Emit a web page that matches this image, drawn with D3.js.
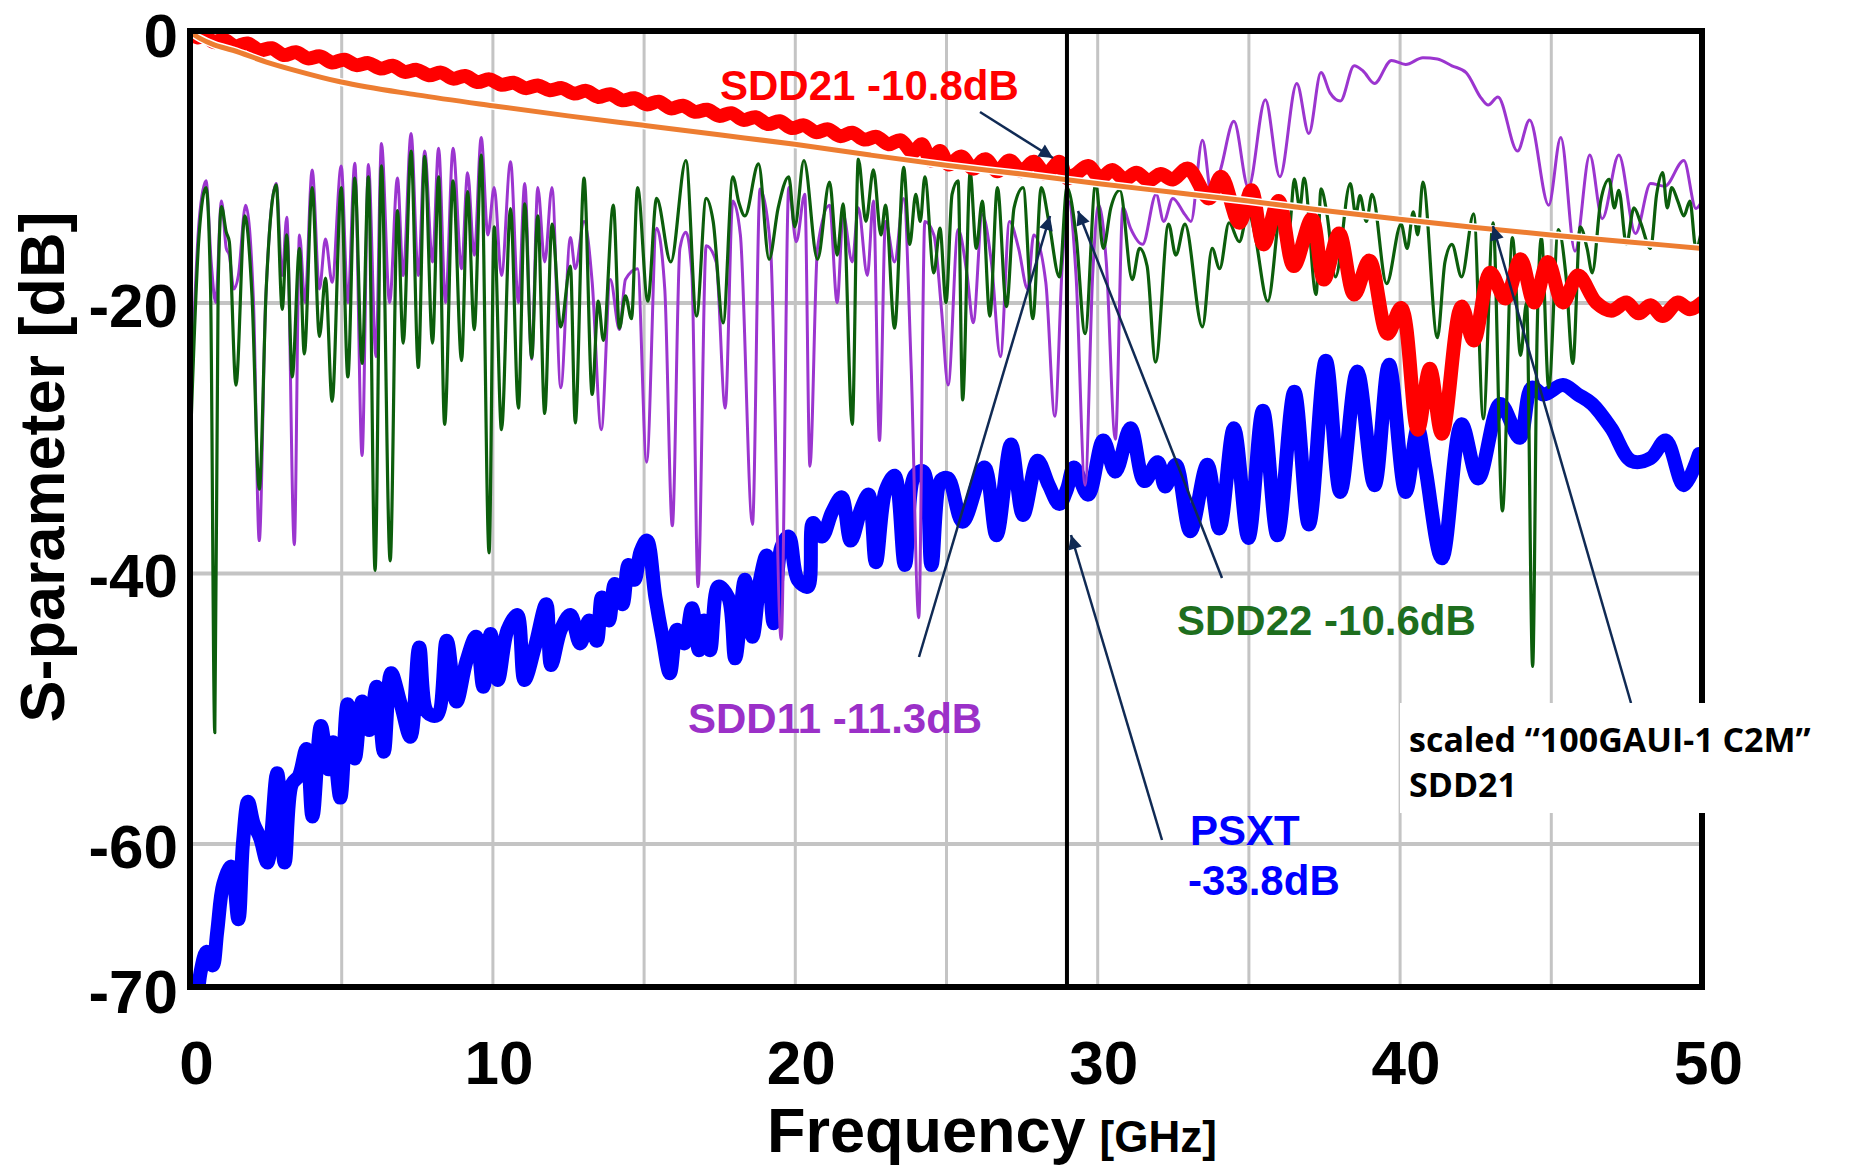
<!DOCTYPE html>
<html><head><meta charset="utf-8">
<script src="https://cdn.jsdelivr.net/npm/d3@7"></script>
<style>body{margin:0;background:#fff}svg{display:block}</style>
</head><body>
<svg id="chart" width="1865" height="1167"></svg>
<script>
// ---------- DATA ----------
const xTickValues = [0, 10, 20, 30, 40, 50];
const yTickValues = [0, -20, -40, -60, -70];
const xGridValues = [5, 10, 15, 20, 25, 30, 35, 40, 45];
const yGridValues = [-20, -40, -60];
const markerFreq = 29;

// scaled "100GAUI-1 C2M" SDD21 reference [GHz, dB]
const c2mRef = [[0,0],[0.33,-0.47],[0.8,-0.95],[1.42,-1.35],[2.5,-2.2],[3.5,-2.85],[5,-3.7],[7.5,-4.65],[10,-5.45],[12.5,-6.2],[15,-6.9],[17.5,-7.6],[20,-8.3],[22.5,-9.1],[25,-9.85],[27.5,-10.5],[30,-11.2],[32.5,-11.85],[35,-12.5],[37.5,-13.2],[40,-13.85],[42.5,-14.45],[45,-15.0],[47.5,-15.5],[50,-16.0]];

// SDD21 measured
const sdd21 = [[0,0],[0.25,-0.4],[0.5,-0.3],[0.8,-0.75],[1.1,-0.55],[1.5,-1.05],[1.9,-0.85],[2.3,-1.35],[2.7,-1.2],[3.1,-1.7],[3.5,-1.5],[3.9,-1.95],[4.3,-1.8],[4.7,-2.25],[5.1,-2.05],[5.5,-2.45],[5.9,-2.3],[6.3,-2.7],[6.7,-2.5],[7.1,-2.95],[7.5,-2.8],[7.9,-3.2],[8.3,-3.0],[8.7,-3.45],[9.1,-3.25],[9.5,-3.7],[9.9,-3.5],[10.3,-3.9],[10.7,-3.75],[11.1,-4.15],[11.5,-3.95],[11.9,-4.3],[12.3,-4.15],[12.7,-4.55],[13.1,-4.35],[13.5,-4.8],[13.9,-4.6],[14.3,-5.05],[14.7,-4.9],[15.1,-5.35],[15.5,-5.15],[15.9,-5.65],[16.3,-5.45],[16.7,-5.9],[17.1,-5.75],[17.5,-6.2],[17.9,-6.0],[18.3,-6.5],[18.7,-6.3],[19.1,-6.8],[19.5,-6.6],[19.9,-7.1],[20.3,-6.9],[20.7,-7.4],[21.1,-7.2],[21.5,-7.7],[21.9,-7.45],[22.3,-7.95],[22.7,-7.75],[23.1,-8.3],[23.5,-8.0],[23.9,-8.9],[24.2,-8.3],[24.5,-9.5],[24.8,-8.8],[25.1,-9.8],[25.5,-9.2],[25.9,-10.1],[26.3,-9.4],[26.7,-10.3],[27.1,-9.5],[27.5,-10.3],[27.9,-9.6],[28.3,-10.5],[28.75,-9.6],[29.0,-10.8],[29.3,-10.5],[29.7,-9.9],[30.1,-10.8],[30.5,-10.2],[30.9,-10.9],[31.3,-10.4],[31.7,-11.0],[32.1,-10.5],[32.5,-10.9],[33.0,-10.1],[33.7,-12.3],[34.1,-10.7],[34.7,-14.1],[35.1,-11.7],[35.5,-15.7],[36.0,-12.5],[36.5,-17.3],[37.1,-13.8],[37.5,-18.3],[38.0,-14.9],[38.5,-19.4],[39.0,-16.9],[39.6,-22.3],[40.05,-20.4],[40.6,-29.4],[41.0,-24.9],[41.4,-29.7],[42.05,-20.3],[42.45,-22.8],[43.0,-17.8],[43.5,-19.7],[44.0,-16.8],[44.45,-20.0],[44.9,-17.0],[45.4,-20.0],[45.9,-18.0],[46.5,-20.0],[47.0,-20.6],[47.5,-20.0],[47.9,-20.8],[48.3,-20.2],[48.7,-21.0],[49.2,-20.0],[49.6,-20.5],[50,-20.0]];

// SDD22 measured
const sdd22 = [[0.02,-30],[0.3,-15],[0.53,-11.5],[0.68,-19],[0.82,-51.8],[0.93,-19],[1.04,-12.9],[1.2,-14.8],[1.3,-15.5],[1.52,-26.1],[1.81,-13.6],[2.05,-19.5],[2.29,-33.8],[2.52,-19],[2.85,-11.3],[3.05,-20.5],[3.2,-15.0],[3.38,-25.5],[3.62,-16.0],[3.78,-23.8],[4.04,-11.5],[4.28,-22.5],[4.48,-18.2],[4.7,-27.3],[5.0,-11.5],[5.22,-25.5],[5.45,-10.8],[5.69,-24.5],[5.9,-10.7],[6.12,-39.8],[6.33,-9.9],[6.62,-39.1],[6.86,-13.2],[7.05,-23.0],[7.31,-8.8],[7.55,-24.8],[7.76,-9.2],[8.02,-23.0],[8.22,-10.7],[8.42,-29.0],[8.7,-11.0],[8.98,-24.3],[9.18,-11.8],[9.4,-22.0],[9.63,-9.1],[9.89,-38.5],[10.06,-14.4],[10.3,-29.4],[10.6,-13.05],[10.86,-27.8],[11.07,-12.7],[11.3,-24.1],[11.5,-13.6],[11.73,-28.2],[11.97,-14.2],[12.26,-21.8],[12.58,-17.3],[12.74,-28.9],[13.03,-10.8],[13.3,-26.8],[13.5,-19.9],[13.67,-22.8],[14.0,-12.8],[14.2,-21.9],[14.4,-19.5],[14.6,-21.2],[14.8,-11.5],[15.14,-19.9],[15.43,-12.3],[15.9,-17.0],[16.4,-9.5],[16.75,-21.0],[17.07,-12.3],[17.3,-14.0],[17.63,-21.5],[17.95,-10.7],[18.15,-12.6],[18.35,-13.6],[18.8,-9.75],[19.15,-16.8],[19.45,-13.0],[19.8,-10.7],[20.0,-14.4],[20.3,-9.5],[20.75,-16.8],[21.15,-11.1],[21.4,-16.5],[21.6,-12.7],[21.9,-29.0],[22.1,-9.4],[22.35,-14.0],[22.6,-10.2],[22.85,-15.0],[23.0,-12.8],[23.3,-21.9],[23.6,-10.0],[23.8,-15.7],[24.0,-12.0],[24.15,-14.0],[24.3,-10.7],[24.6,-17.8],[24.8,-14.5],[25.0,-20.0],[25.2,-12.0],[25.4,-11.0],[25.55,-27.2],[25.8,-10.4],[26.0,-16.0],[26.2,-12.5],[26.45,-21.0],[26.7,-11.5],[27.0,-20.3],[27.25,-13.0],[27.55,-11.5],[27.87,-21.2],[28.15,-11.5],[28.4,-14.0],[28.75,-18.1],[29.0,-11.5],[29.3,-15.0],[29.6,-22.3],[29.95,-11.2],[30.2,-16.0],[30.45,-13.0],[30.75,-11.7],[31.16,-18.3],[31.4,-16.0],[31.65,-17.3],[31.93,-24.4],[32.36,-14.2],[32.6,-16.5],[32.9,-14.2],[33.48,-21.8],[33.8,-16.0],[34.05,-17.5],[34.36,-14.1],[34.7,-15.5],[35.0,-13.2],[35.2,-14.8],[35.64,-19.9],[36.12,-12.5],[36.35,-14.5],[36.52,-10.9],[36.7,-13.0],[36.84,-10.8],[37.24,-19.4],[37.4,-11.6],[37.6,-13.5],[37.88,-18.1],[38.37,-11.2],[38.55,-13.5],[38.69,-12.1],[38.9,-14.0],[39.09,-12.0],[39.57,-18.6],[40.05,-14.2],[40.25,-16.0],[40.45,-13.3],[40.6,-15.0],[40.77,-11.1],[41.25,-22.6],[41.5,-17.0],[41.73,-15.7],[42.05,-18.1],[42.45,-13.45],[42.77,-28.6],[43.09,-14.1],[43.4,-35.4],[43.73,-15.2],[44.0,-23.9],[44.2,-20.0],[44.4,-46.9],[44.55,-22.0],[44.69,-15.2],[44.93,-26.3],[45.25,-14.6],[45.5,-18.0],[45.73,-24.5],[45.97,-14.4],[46.2,-16.0],[46.37,-17.8],[46.65,-12.5],[46.93,-10.9],[47.1,-13.0],[47.25,-11.7],[47.5,-15.7],[47.75,-13.0],[47.97,-14.1],[48.3,-16.0],[48.5,-12.0],[48.7,-10.4],[48.85,-13.0],[49.0,-11.5],[49.2,-12.5],[49.4,-13.6],[49.6,-12.5],[49.8,-16.0],[50.0,-14.5]];

// SDD11 measured
const sdd11 = [[0.02,-28],[0.3,-14],[0.53,-11.0],[0.7,-17],[0.85,-20],[1.04,-12.5],[1.2,-16],[1.3,-16.5],[1.45,-19],[1.6,-18],[1.84,-12.8],[2.1,-20],[2.29,-37.6],[2.5,-20],[2.85,-11.2],[3.05,-18],[3.2,-13.7],[3.45,-37.9],[3.62,-15.0],[3.8,-20],[4.04,-10.2],[4.28,-19],[4.48,-15.3],[4.7,-18.5],[5.0,-9.9],[5.22,-20],[5.45,-9.7],[5.69,-31.3],[5.9,-9.8],[6.15,-24],[6.33,-8.25],[6.6,-20],[6.86,-10.8],[7.05,-18],[7.31,-7.5],[7.55,-18],[7.76,-8.8],[8.02,-17],[8.22,-8.6],[8.45,-20],[8.7,-8.6],[8.98,-17.5],[9.18,-10.4],[9.4,-16.5],[9.63,-7.8],[9.85,-15],[10.06,-11.5],[10.3,-18.0],[10.6,-9.6],[10.86,-20],[11.07,-11.2],[11.3,-24.2],[11.5,-11.5],[11.73,-17.0],[11.97,-11.5],[12.26,-26.3],[12.58,-15.2],[12.74,-17.5],[13.03,-14.0],[13.3,-18.5],[13.6,-29.4],[13.9,-18.3],[14.2,-22.0],[14.4,-18.3],[14.8,-17.5],[15.1,-31.8],[15.43,-14.5],[15.7,-19],[15.95,-36.5],[16.2,-16],[16.4,-14.8],[16.6,-18],[16.8,-41.0],[17.07,-15.8],[17.4,-17],[17.7,-27.8],[17.95,-12.5],[18.2,-15],[18.6,-36.4],[18.85,-11.6],[19.2,-16],[19.55,-44.9],[19.8,-11.5],[20.05,-15.5],[20.33,-12],[20.5,-32.1],[20.75,-16],[21.15,-12.8],[21.4,-20],[21.6,-13.5],[21.9,-17],[22.1,-13],[22.4,-18],[22.6,-12.5],[22.8,-30.2],[23.0,-14],[23.3,-17],[23.6,-12.3],[23.85,-24.9],[24.1,-43.3],[24.3,-14],[24.6,-15],[24.85,-20.5],[25.07,-26.1],[25.4,-14.6],[25.7,-18],[25.9,-21.5],[26.2,-13.5],[26.5,-17],[26.8,-24],[27.1,-14],[27.4,-16],[27.7,-19],[27.9,-15],[28.3,-18.5],[28.6,-28.4],[28.85,-17],[29.05,-12.5],[29.3,-18],[29.6,-33.5],[29.85,-18],[30.05,-12.8],[30.3,-17],[30.6,-30.1],[30.85,-13.0],[31.1,-14.5],[31.5,-15.7],[31.95,-12.0],[32.2,-14],[32.5,-12.3],[32.9,-13.5],[33.1,-14],[33.48,-8.0],[33.8,-12.3],[34.1,-10],[34.52,-6.6],[35.0,-11.5],[35.56,-5.0],[36.04,-10.7],[36.6,-3.8],[37.0,-7.5],[37.4,-3.0],[37.7,-4.5],[38.04,-5.1],[38.5,-2.5],[38.8,-2.9],[39.17,-3.8],[39.73,-2.1],[40.2,-2.4],[40.77,-1.9],[41.25,-2.0],[41.73,-2.5],[42.2,-3.0],[42.7,-4.9],[42.93,-5.4],[43.25,-4.8],[43.9,-8.8],[44.3,-6.5],[44.93,-12.8],[45.33,-7.8],[45.8,-16.2],[46.29,-9.1],[46.7,-13.8],[47.25,-9.1],[47.8,-14.9],[48.3,-11.2],[48.77,-11.4],[49.4,-9.5],[49.8,-13.05],[50.0,-12.5]];

// PSXT measured
const psxt = [[0.24,-72],[0.35,-69.5],[0.55,-68.0],[0.75,-69],[0.9,-66.5],[1.1,-63.0],[1.36,-61.7],[1.6,-65.6],[1.75,-60],[1.92,-56.9],[2.1,-58.5],[2.32,-59.6],[2.56,-61.4],[2.88,-54.8],[3.13,-61.4],[3.37,-55.6],[3.6,-55],[3.85,-53.0],[4.05,-58.0],[4.33,-51.3],[4.57,-54.5],[4.73,-52.5],[4.97,-56.6],[5.21,-49.7],[5.45,-53.7],[5.69,-49.5],[5.93,-51.6],[6.17,-48.4],[6.41,-53.2],[6.65,-47.4],[6.97,-49.7],[7.29,-52.1],[7.58,-45.5],[7.85,-50.3],[8.17,-50.5],[8.49,-45.0],[8.81,-49.5],[9.13,-46.6],[9.46,-44.7],[9.7,-48.4],[9.94,-44.5],[10.18,-47.9],[10.5,-44.2],[10.82,-43.1],[11.06,-47.9],[11.4,-45.5],[11.78,-42.3],[11.94,-46.8],[12.26,-44.2],[12.58,-43.1],[12.9,-45.2],[13.2,-43.5],[13.45,-45.0],[13.62,-41.8],[13.85,-43.5],[14.05,-40.8],[14.3,-42.3],[14.5,-39.4],[14.7,-40.5],[14.9,-38.4],[15.11,-37.6],[15.39,-41.8],[15.62,-44.7],[15.87,-47.4],[16.1,-44.2],[16.35,-45.2],[16.6,-42.6],[16.83,-45.7],[17.0,-43.5],[17.2,-45.7],[17.47,-41.0],[17.8,-41.8],[18.03,-46.3],[18.35,-40.5],[18.6,-44.7],[18.85,-40.5],[19.07,-38.7],[19.3,-43.7],[19.55,-38.1],[19.8,-37.3],[20.1,-40.5],[20.43,-41.0],[20.6,-36.3],[20.9,-37.3],[21.23,-35.5],[21.55,-34.4],[21.85,-37.6],[22.2,-35.2],[22.44,-34.2],[22.68,-39.2],[23.0,-33.9],[23.3,-32.8],[23.64,-39.4],[23.96,-32.8],[24.25,-32.5],[24.52,-39.4],[24.84,-33.1],[25.07,-33.0],[25.55,-36.2],[26.27,-32.2],[26.67,-37.2],[27.15,-30.5],[27.55,-35.7],[28.03,-31.7],[28.4,-33.5],[28.75,-34.9],[29.0,-33.8],[29.23,-32.2],[29.7,-34.2],[30.2,-30.2],[30.6,-32.5],[31.1,-29.3],[31.56,-33.2],[32.0,-31.8],[32.25,-33.6],[32.6,-32.0],[33.08,-36.9],[33.64,-32.0],[34.04,-36.7],[34.52,-29.3],[35.0,-37.4],[35.48,-28.0],[35.96,-37.2],[36.52,-26.6],[37.0,-36.4],[37.56,-24.3],[38.04,-34.0],[38.6,-25.1],[39.17,-33.5],[39.65,-24.6],[40.2,-34.0],[40.6,-29.3],[40.85,-32.2],[41.4,-38.9],[42.05,-29.0],[42.6,-33.0],[43.33,-27.5],[43.97,-30.0],[44.37,-26.3],[44.77,-26.8],[45.4,-26.1],[45.9,-26.8],[46.37,-27.5],[47.0,-29.3],[47.66,-31.7],[48.3,-31.5],[48.8,-30.2],[49.4,-33.5],[49.9,-31.2]];

const labelTexts = ["SDD21 -10.8dB", "SDD22 -10.6dB", "SDD11 -11.3dB", "PSXT", "-33.8dB"];
const refLabelLines = ["scaled \u201C100GAUI-1 C2M\u201D", "SDD21"];

// ---------- LAYOUT ----------
const svg = d3.select("#chart");
const L = 190, R = 1702, T = 32, B = 987;
const x = d3.scaleLinear().domain([0, 50]).range([L, R]);
const y = d3.scaleLinear().domain([-70.6, 0]).range([B, T]);
const FONT = "'Liberation Sans', Arial, Helvetica, sans-serif";

svg.append("rect").attr("width", 1865).attr("height", 1167).attr("fill", "#fff");

// grid
svg.append("g").attr("transform", `translate(0,${B})`)
  .call(d3.axisBottom(x).tickValues(xGridValues).tickSize(-(B - T)).tickFormat(""))
  .call(g => g.select(".domain").remove())
  .call(g => g.selectAll("line").attr("stroke", "#c4c4c4").attr("stroke-width", 3));
svg.append("g").attr("transform", `translate(${L},0)`)
  .call(d3.axisLeft(y).tickValues(yGridValues).tickSize(-(R - L)).tickFormat(""))
  .call(g => g.select(".domain").remove())
  .call(g => g.selectAll("line").attr("stroke", "#c4c4c4").attr("stroke-width", 4));

// clip
svg.append("clipPath").attr("id", "plotclip").append("rect")
  .attr("x", L).attr("y", T - 4).attr("width", R - L).attr("height", B - T + 4);
const plot = svg.append("g").attr("clip-path", "url(#plotclip)");

const lineSmooth = d3.line().x(d => x(d[0])).y(d => y(d[1])).curve(d3.curveCatmullRom.alpha(0.5));
const lineMono = d3.line().x(d => x(d[0])).y(d => y(d[1])).curve(d3.curveMonotoneX);

function draw(data, gen, color, width) {
  plot.append("path").datum(data).attr("d", gen).attr("fill", "none")
    .attr("stroke", color).attr("stroke-width", width)
    .attr("stroke-linejoin", "round").attr("stroke-linecap", "round");
}
draw(psxt, lineSmooth, "#0000ff", 14);
draw(sdd11, lineMono, "#9b35cf", 3);
draw(sdd22, lineMono, "#0c5e0c", 3.2);
draw(sdd21, lineSmooth, "#ff0000", 14);
draw(c2mRef, lineMono, "#ffffff", 8);
draw(c2mRef, lineMono, "#ed7d31", 5);

// marker line at 29 GHz
svg.append("line").attr("x1", x(markerFreq)).attr("x2", x(markerFreq))
  .attr("y1", T).attr("y2", B).attr("stroke", "#000").attr("stroke-width", 4);

// frame
svg.append("rect").attr("x", L).attr("y", T - 1).attr("width", R - L).attr("height", B - T + 1)
  .attr("fill", "none").attr("stroke", "#000").attr("stroke-width", 6);

// axes tick labels
svg.append("g").attr("transform", `translate(6,${B})`)
  .call(d3.axisBottom(x).tickValues(xTickValues).tickSize(0).tickPadding(97).tickFormat(d => String(d)))
  .call(g => g.select(".domain").remove())
  .call(g => g.selectAll("text").attr("font-family", FONT).attr("font-weight", "bold")
    .attr("font-size", 62).attr("fill", "#000").attr("dy", 0));
svg.append("g").attr("transform", `translate(178,0)`)
  .call(d3.axisLeft(y).tickValues(yTickValues).tickSize(0).tickPadding(0).tickFormat(d => String(d)))
  .call(g => g.select(".domain").remove())
  .call(g => g.selectAll("text").attr("font-family", FONT).attr("font-weight", "bold")
    .attr("font-size", 62).attr("fill", "#000").attr("dy", d => d === -70 ? "0.55em" : (d === 0 ? "0.4em" : "0.38em")));

// axis titles
const xt = svg.append("text").attr("x", 767).attr("y", 1152).attr("font-family", FONT)
  .attr("font-weight", "bold").attr("fill", "#000");
xt.append("tspan").attr("font-size", 63).text("Frequency");
xt.append("tspan").attr("font-size", 44).attr("dx", 14).text("[GHz]");
svg.append("text").attr("transform", "translate(64,467) rotate(-90)").attr("text-anchor", "middle")
  .attr("font-family", FONT).attr("font-weight", "bold").attr("font-size", 63).attr("fill", "#000")
  .text("S-parameter [dB]");

// annotation arrows
const navy = "#102a54";
svg.append("defs").append("marker").attr("id", "ah").attr("viewBox", "0 0 10 10")
  .attr("refX", 10).attr("refY", 5).attr("markerUnits", "userSpaceOnUse")
  .attr("markerWidth", 18).attr("markerHeight", 14).attr("orient", "auto")
  .append("path").attr("d", "M0,0 L10,5 L0,10 Z").attr("fill", navy);
const arrows = [
  [[980, 112], [1053, 158]],
  [[919, 657], [1050, 216]],
  [[1222, 578], [1078, 211]],
  [[1162, 840], [1071, 535]],
  [[1631, 703], [1493, 226]]
];
arrows.forEach(a => svg.append("line").attr("x1", a[0][0]).attr("y1", a[0][1])
  .attr("x2", a[1][0]).attr("y2", a[1][1]).attr("stroke", navy).attr("stroke-width", 2.5)
  .attr("marker-end", "url(#ah)"));

// labels
function lab(t, xx, yy, color) {
  svg.append("text").attr("x", xx).attr("y", yy).attr("font-family", FONT).attr("font-weight", "bold")
    .attr("font-size", 42).attr("fill", color).text(t);
}
lab(labelTexts[0], 720, 100, "#ff0000");
lab(labelTexts[1], 1177, 635, "#1e6e1e");
lab(labelTexts[2], 688, 733, "#9b30c8");
lab(labelTexts[3], 1190, 845, "#0000ff");
lab(labelTexts[4], 1188, 895, "#0000ff");

// reference label with white box
svg.append("rect").attr("x", 1400).attr("y", 703).attr("width", 450).attr("height", 110).attr("fill", "#fff");
refLabelLines.forEach((t, i) => svg.append("text").attr("x", 1409).attr("y", 752 + i * 45)
  .attr("font-family", "'Open Sans', 'Noto Sans', sans-serif").attr("font-weight", "bold")
  .attr("font-size", 34).attr("fill", "#000").text(t));
</script>
</body></html>
